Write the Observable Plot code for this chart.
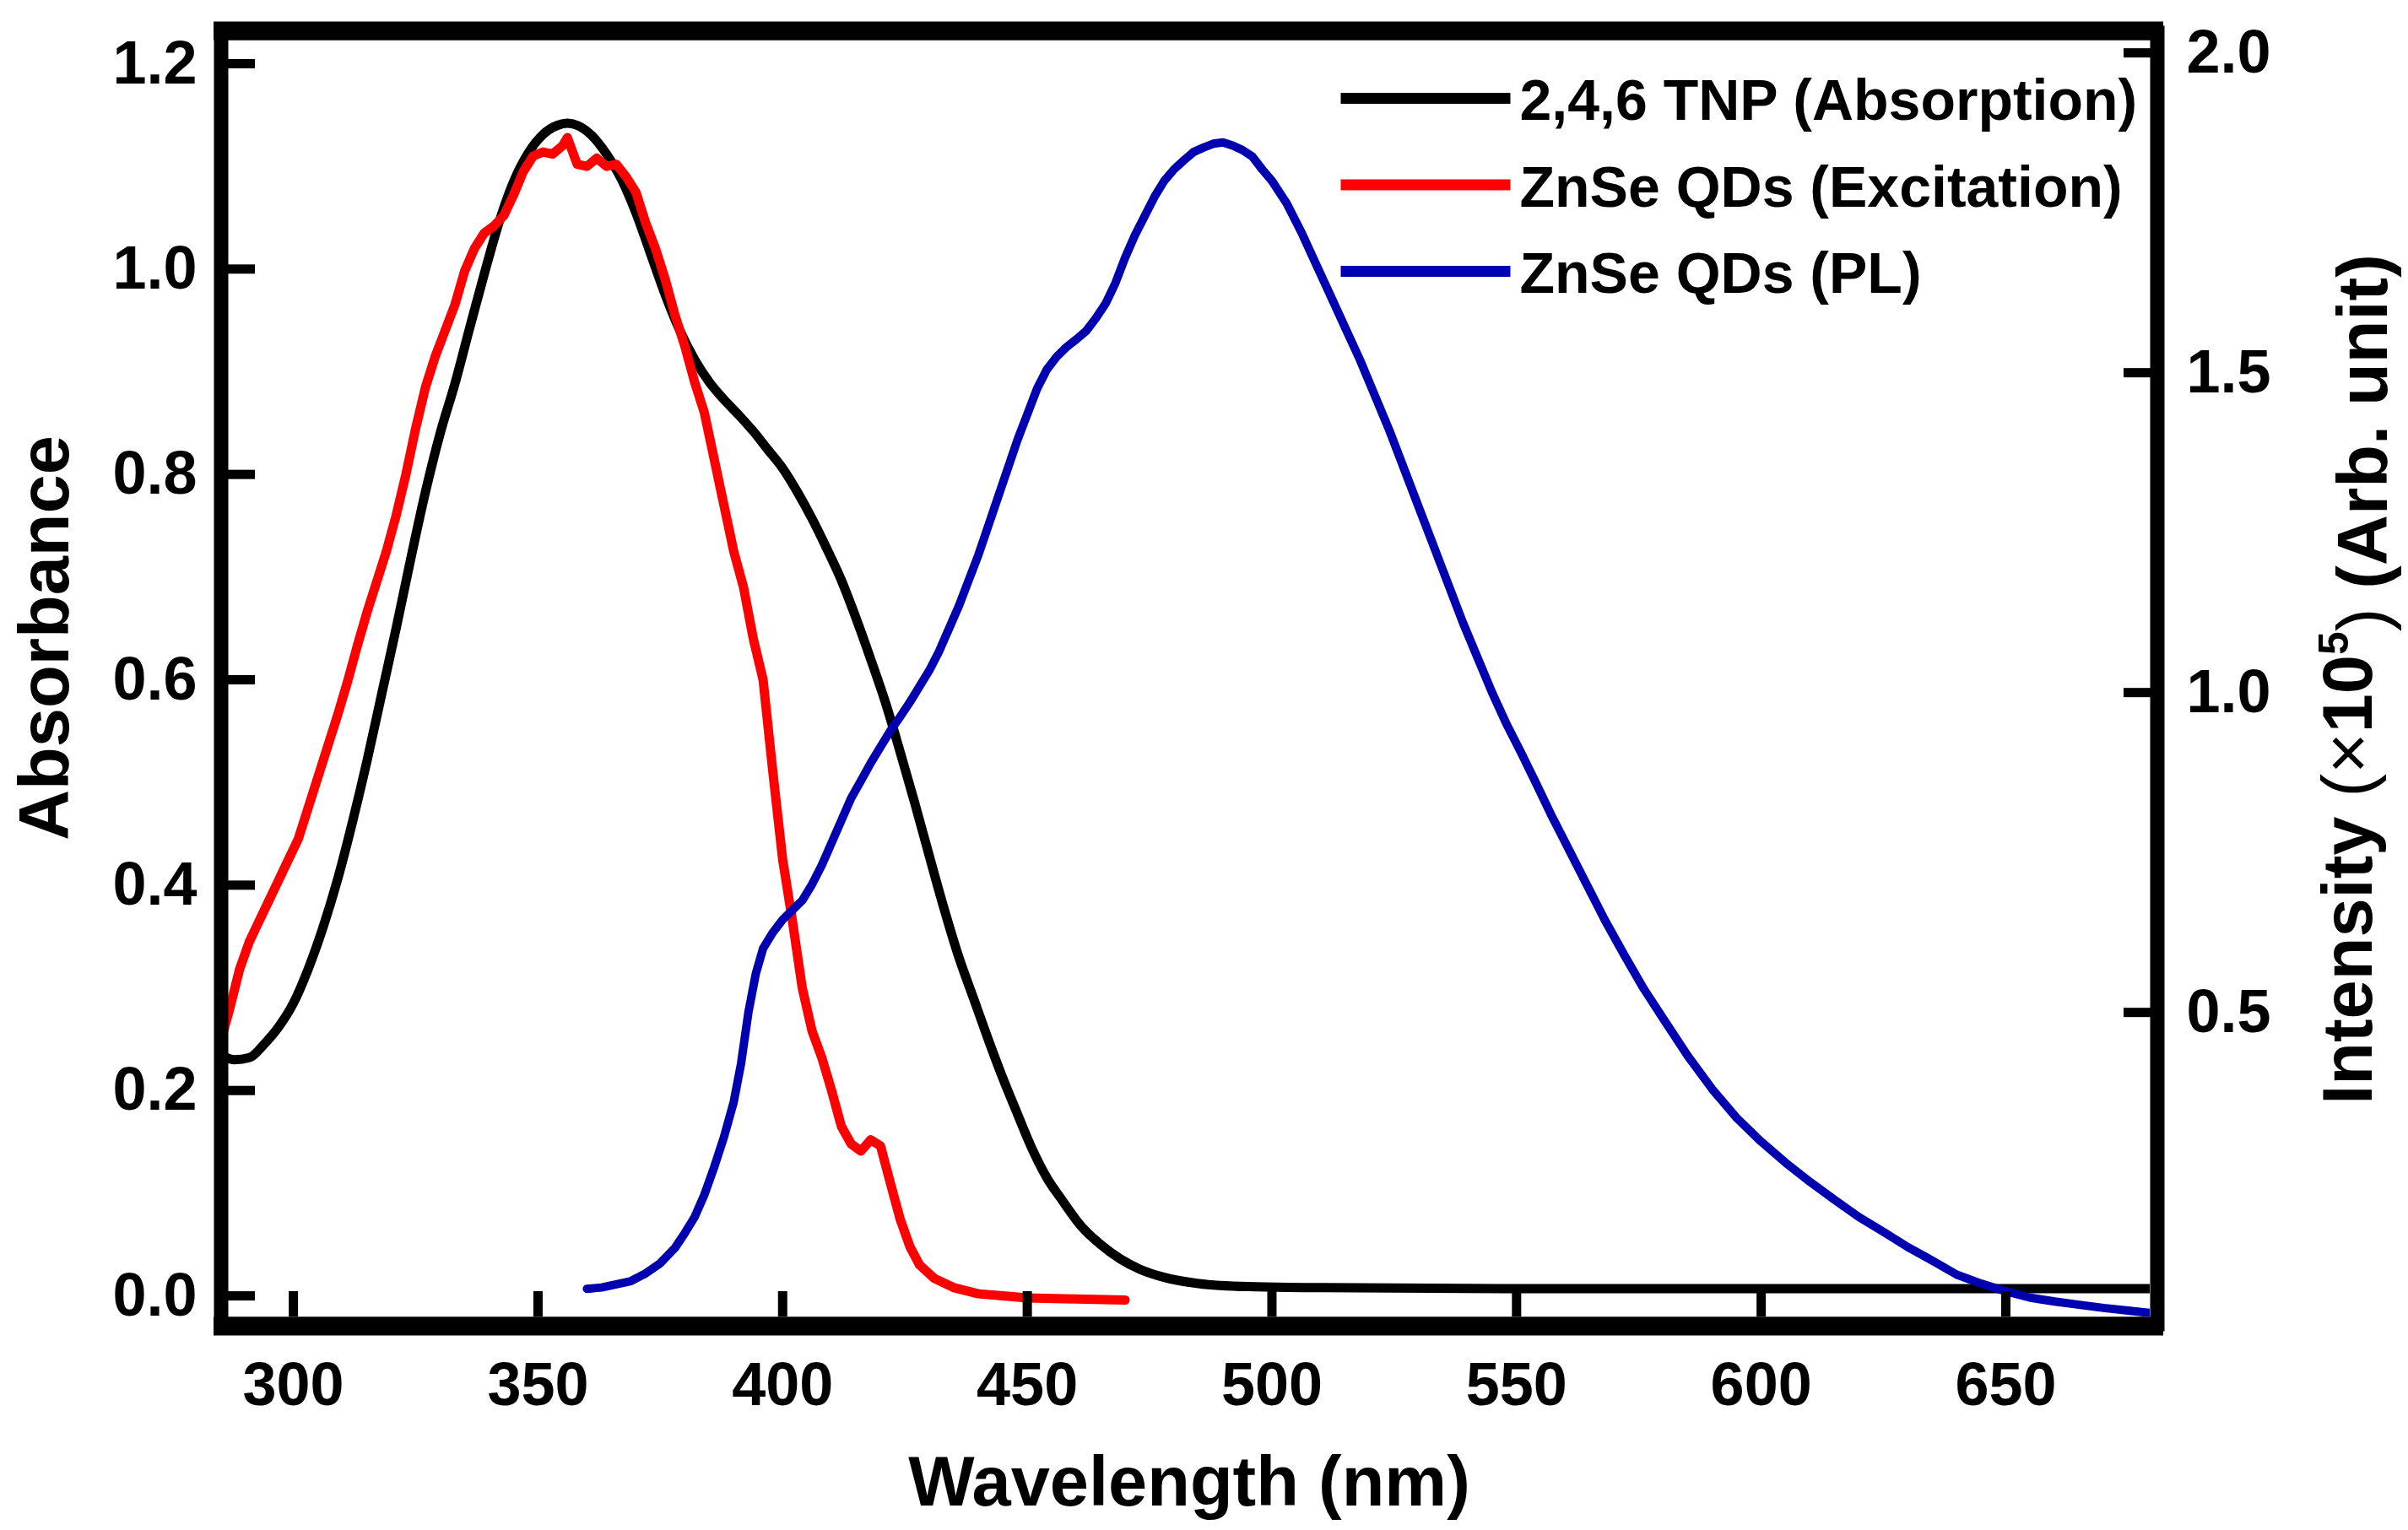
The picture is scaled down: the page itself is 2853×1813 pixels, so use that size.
<!DOCTYPE html>
<html>
<head>
<meta charset="utf-8">
<script src="https://cdn.jsdelivr.net/npm/d3@7"></script>
<script src="https://cdn.jsdelivr.net/npm/@observablehq/plot@0.6"></script>
<style>
  html, body { margin: 0; padding: 0; background: #ffffff; }
  #chart svg { display: block; }
</style>
</head>
<body>
<div id="chart"></div>
<script>
// ---------- data ----------
// 2,4,6 TNP absorption (left axis, absorbance)
const absWl  = [285, 288, 291, 294, 297, 300, 303, 306, 309, 312, 315, 318, 321, 324, 327, 330, 333, 336, 339, 342, 345, 348, 351, 354, 356, 358, 361, 364, 367, 370, 373, 376, 379, 382, 385, 388, 391, 394, 397, 400, 403, 406, 409, 412, 415, 418, 421, 424, 427, 430, 433, 436, 439, 442, 445, 448, 451, 454, 457, 461, 465, 469, 473, 478, 485, 495, 510, 550, 600, 650, 680];
const absVal = [0.235, 0.230, 0.232, 0.245, 0.262, 0.285, 0.318, 0.358, 0.405, 0.460, 0.520, 0.585, 0.650, 0.718, 0.783, 0.840, 0.888, 0.942, 0.995, 1.045, 1.085, 1.113, 1.131, 1.140, 1.142, 1.140, 1.130, 1.112, 1.088, 1.055, 1.015, 0.975, 0.940, 0.912, 0.890, 0.873, 0.858, 0.842, 0.824, 0.806, 0.783, 0.757, 0.728, 0.697, 0.660, 0.620, 0.578, 0.530, 0.480, 0.428, 0.377, 0.330, 0.290, 0.250, 0.212, 0.177, 0.143, 0.115, 0.094, 0.068, 0.050, 0.036, 0.026, 0.018, 0.012, 0.009, 0.008, 0.007, 0.007, 0.007, 0.007];

// ZnSe QDs excitation (left axis)
const excWl  = [285, 287, 289, 291, 293, 295, 297, 299, 301, 303, 305, 307, 309, 311, 313, 315, 317, 319, 321, 323, 325, 327, 329, 331, 333, 335, 337, 339, 341, 343, 345, 347, 349, 351, 353, 355, 356, 358, 360, 362, 364, 366, 368, 370, 372, 374, 376, 378, 380, 382, 384, 386, 388, 390, 392, 394, 396, 398, 400, 402, 404, 406, 408, 410, 412, 414, 416, 418, 420, 422, 424, 426, 428, 431, 435, 440, 445, 450, 460, 470];
const excVal = [0.245, 0.280, 0.318, 0.345, 0.365, 0.385, 0.405, 0.425, 0.445, 0.475, 0.505, 0.535, 0.565, 0.597, 0.632, 0.665, 0.695, 0.725, 0.760, 0.800, 0.845, 0.885, 0.915, 0.940, 0.965, 0.998, 1.020, 1.035, 1.042, 1.052, 1.072, 1.095, 1.110, 1.114, 1.112, 1.120, 1.128, 1.102, 1.100, 1.108, 1.100, 1.102, 1.090, 1.075, 1.045, 1.020, 0.990, 0.955, 0.925, 0.890, 0.860, 0.815, 0.770, 0.725, 0.690, 0.640, 0.600, 0.510, 0.425, 0.365, 0.300, 0.258, 0.232, 0.200, 0.165, 0.148, 0.141, 0.152, 0.146, 0.110, 0.075, 0.048, 0.030, 0.017, 0.008, 0.002, 0.000, -0.002, -0.003, -0.004];

// ZnSe QDs photoluminescence (right axis, intensity x10^5)
const plWl  = [360, 363, 366, 369, 372, 375, 378, 380, 382, 384, 386, 388, 390, 391.5, 393, 394.5, 396, 398, 400, 402, 404, 406, 408, 410, 412, 414, 416, 418, 420, 422, 424, 426, 428, 430, 432, 434, 436, 438, 440, 442, 444, 446, 448, 450, 452, 454, 456, 458, 460, 462, 464, 466, 468, 470, 472, 474, 476, 478, 480, 482, 484, 486, 488, 490, 492, 494, 496, 498, 500, 503, 506, 509, 512, 515, 518, 521, 524, 527, 530, 533, 536, 539, 542, 545, 548, 551, 554, 557, 560, 564, 568, 572, 576, 580, 585, 590, 595, 600, 605, 610, 615, 620, 625, 630, 635, 640, 645, 650, 655, 660, 665, 670, 675, 679.5];
const plVal = [0.068, 0.070, 0.075, 0.080, 0.092, 0.108, 0.132, 0.155, 0.180, 0.215, 0.258, 0.305, 0.360, 0.420, 0.500, 0.560, 0.600, 0.625, 0.645, 0.660, 0.675, 0.700, 0.730, 0.765, 0.800, 0.835, 0.862, 0.890, 0.915, 0.940, 0.962, 0.985, 1.010, 1.035, 1.065, 1.100, 1.135, 1.175, 1.215, 1.260, 1.305, 1.350, 1.395, 1.435, 1.475, 1.505, 1.525, 1.540, 1.552, 1.565, 1.585, 1.608, 1.640, 1.680, 1.715, 1.745, 1.775, 1.800, 1.818, 1.832, 1.845, 1.852, 1.858, 1.860, 1.855, 1.848, 1.838, 1.818, 1.800, 1.765, 1.720, 1.670, 1.620, 1.570, 1.520, 1.465, 1.410, 1.350, 1.290, 1.230, 1.170, 1.110, 1.055, 1.000, 0.950, 0.905, 0.858, 0.810, 0.765, 0.705, 0.645, 0.590, 0.537, 0.490, 0.432, 0.380, 0.335, 0.298, 0.265, 0.235, 0.207, 0.180, 0.157, 0.133, 0.112, 0.090, 0.076, 0.064, 0.054, 0.048, 0.043, 0.038, 0.034, 0.030];

// axes
const xTicks = [300, 350, 400, 450, 500, 550, 600, 650];
const leftTicks = [0.0, 0.2, 0.4, 0.6, 0.8, 1.0, 1.2];
const rightTicks = [0.5, 1.0, 1.5, 2.0];
const xDomain = [286.7, 679.5];
const leftDomain = [-0.0205, 1.223];
const rightDomain = [0.024, 2.020];

// legend
const legendLabels = ["2,4,6 TNP (Absorption)", "ZnSe QDs (Excitation)", "ZnSe QDs (PL)"];
const seriesColors = ["#000000", "#ff0000", "#0000b0"];

// ---------- build ----------
const rightToLeft = d3.scaleLinear().domain(rightDomain).range(leftDomain);
const absRows = absWl.map((wl, i) => ({wl, v: absVal[i]}));
const excRows = excWl.map((wl, i) => ({wl, v: excVal[i]}));
const plRows = plWl.map((wl, i) => ({wl, v: rightToLeft(plVal[i])}));

const FONT = "'Liberation Sans', Arial, Helvetica, sans-serif";
const segment = {draw(context, l) { context.moveTo(0, 0); context.lineTo(0, -l); }};

const legendMarks = legendLabels.flatMap((label, i) => [
  Plot.vector([label], {frameAnchor: "top-left", dx: 1318, dy: 69 + 102.5 * i, length: 201, rotate: 90, anchor: "start", shape: segment, stroke: seriesColors[i], strokeWidth: 13, strokeLinecap: "butt"}),
  Plot.text([label], {frameAnchor: "top-left", dx: 1530, dy: 73 + 102.5 * i, textAnchor: "start", lineAnchor: "middle", fontSize: 68, fontWeight: "bold", fill: "#000"})
]);

const chart = Plot.plot({
  width: 2853,
  height: 1813,
  marginLeft: 270,
  marginRight: 306,
  marginTop: 47,
  marginBottom: 253,
  style: {fontFamily: FONT, color: "#000", background: "#fff", overflow: "visible"},
  x: {domain: xDomain},
  y: {domain: leftDomain},
  marks: [
    Plot.line(absRows, {x: "wl", y: "v", stroke: seriesColors[0], strokeWidth: 11, curve: "monotone-x", clip: true}),
    Plot.line(excRows, {x: "wl", y: "v", stroke: seriesColors[1], strokeWidth: 11, curve: "linear", clip: true}),
    Plot.line(plRows, {x: "wl", y: "v", stroke: seriesColors[2], strokeWidth: 10, curve: "linear", clip: true}),

    // ticks (inward)
    Plot.axisX(xTicks, {anchor: "bottom", tickSize: -30, strokeWidth: 11, fill: "none", label: null}),
    Plot.axisY(leftTicks, {anchor: "left", tickSize: -32, strokeWidth: 11, fill: "none", label: null}),
    Plot.axisY(rightTicks.map(rightToLeft), {anchor: "right", tickSize: -32, strokeWidth: 11, fill: "none", label: null}),
    // tick labels
    Plot.axisX(xTicks, {anchor: "bottom", tickSize: 0, tickPadding: 53, fontSize: 72, fontWeight: "bold", label: null}),
    Plot.axisY(leftTicks, {anchor: "left", tickSize: 0, tickPadding: 37, fontSize: 72, fontWeight: "bold", tickFormat: d => d.toFixed(1), label: null}),
    Plot.axisY(rightTicks.map(rightToLeft), {anchor: "right", tickSize: 0, tickPadding: 43, fontSize: 72, fontWeight: "bold", tickFormat: d => rightToLeft.invert(d).toFixed(1), label: null}),

    // frame
    Plot.frame({stroke: "#000", strokeWidth: 17, inset: -8.5}),
    Plot.ruleY([leftDomain[1]], {stroke: "#000", strokeWidth: 22, dy: -11, insetLeft: -17, insetRight: -16}),
    Plot.ruleY([leftDomain[0]], {stroke: "#000", strokeWidth: 22, dy: 11, insetLeft: -17, insetRight: -16}),

    // axis titles
    Plot.text(["Wavelength (nm)"], {frameAnchor: "bottom", dy: 223, lineAnchor: "bottom", textAnchor: "middle", fontSize: 83, fontWeight: "bold", fill: "#000"}),
    Plot.text(["Absorbance"], {frameAnchor: "left", dx: -190, dy: -48, rotate: -90, lineAnchor: "bottom", textAnchor: "middle", fontSize: 83, fontWeight: "bold", fill: "#000"}),
    Plot.text(["Intensity (×10⁵) (Arb. unit)"], {frameAnchor: "right", dx: 262, dy: 1, rotate: -90, lineAnchor: "bottom", textAnchor: "middle", fontSize: 83, fontWeight: "bold", fill: "#000"}),

    ...legendMarks
  ]
});

// real superscript for the right-hand title
d3.select(chart).selectAll("text").filter(function () {
  return this.textContent === "Intensity (×10⁵) (Arb. unit)";
}).each(function () {
  const t = d3.select(this);
  t.text(null);
  t.append("tspan").text("Intensity ");
  t.append("tspan").attr("font-weight", "normal").text("(×");
  t.append("tspan").text("10");
  t.append("tspan").attr("font-size", "0.6em").attr("dy", "-0.55em").text("5");
  t.append("tspan").attr("font-weight", "normal").attr("dy", "0.55em").text(")");
  t.append("tspan").text(" (Arb. unit)");
});

document.getElementById("chart").appendChild(chart);
</script>
</body>
</html>
